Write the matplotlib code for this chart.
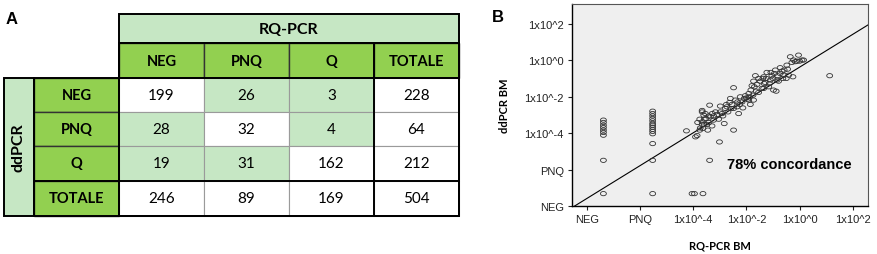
import numpy as np
import matplotlib.pyplot as plt
from matplotlib.patches import Rectangle
from matplotlib.path import Path
from matplotlib.transforms import Affine2D

# ---- panel A data ----
rq_cats = ["NEG", "PNQ", "Q", "TOTALE"]
dd_cats = ["NEG", "PNQ", "Q", "TOTALE"]
counts = [[199, 26, 3, 228],
          [28, 32, 4, 64],
          [19, 31, 162, 212],
          [246, 89, 169, 504]]

# ---- panel B data (log10 units, NEG = -8, PNQ = -6) ----
rq_log = [-7.37] * 9 + [-5.52] * 14 + [-4.04, -3.95, -3.63, -3.38] + [
    -4.25, -3.91, -3.85, -3.75, -3.66, -3.66, -3.73, -3.66, -3.66, -3.60,
    -3.58, -3.51, -3.48, -3.45, -3.41, -3.38, -3.35, -3.29, -3.23, -3.23,
    -3.16, -3.10, -3.04, -3.01, -2.98, -2.91, -2.88, -2.83, -2.79, -2.75,
    -2.73, -2.69, -2.63, -2.60, -2.58, -2.54, -2.48, -2.48, -2.41, -2.35,
    -2.29, -2.25, -2.23, -2.16, -2.13, -2.08, -2.04, -2.00, -1.95, -1.91,
    -1.88, -1.85, -1.83, -1.79, -1.75, -1.73, -1.70, -1.66, -1.63, -1.60,
    -1.54, -1.48, -1.41, -1.38, -1.35, -1.33, -1.29, -1.25, -1.23, -1.16,
    -1.13, -1.10, -1.04, -1.00, -0.98, -0.95, -0.91, -0.88, -0.85, -0.83,
    -0.79, -0.73, -0.66, -0.63, -0.58, -0.50, -0.48, -0.45, -0.41, -0.35,
    -0.29, -0.25, -0.23, -0.16, -0.10, -0.04, 0.00, 0.09, 0.15, 1.13,
    -3.83, -3.75, -3.54, -3.41, -3.28, -2.98, -2.48, -2.33, -1.91, -1.73,
    -1.54, -1.35, -1.08, -0.73, -0.60, -3.58, -3.63]
dd_log = [-3.28, -3.41, -3.56, -3.69, -3.83, -3.96, -4.11, -5.49, -7.32] + [
    -2.79, -2.92, -3.05, -3.19, -3.32, -3.46, -3.56, -3.67, -3.79, -3.90,
    -4.03, -4.57, -5.49, -7.32] + [-7.32, -7.32, -7.32, -5.49] + [
    -3.87, -4.20, -4.13, -3.83, -3.52, -3.38, -3.71, -2.75, -2.83, -3.01,
    -3.23, -3.19, -3.52, -3.83, -3.41, -2.46, -3.10, -3.60, -3.28, -3.05,
    -2.83, -2.97, -3.23, -4.48, -2.51, -2.92, -3.05, -3.47, -2.64, -2.42,
    -2.55, -2.83, -2.31, -2.09, -2.64, -2.42, -1.50, -3.83, -2.18, -2.55,
    -2.92, -2.42, -2.00, -2.28, -2.61, -2.09, -1.94, -2.06, -2.13, -1.82,
    -2.00, -2.42, -1.63, -1.39, -1.91, -2.18, -1.45, -0.84, -1.69, -1.32,
    -1.76, -1.14, -1.54, -0.99, -0.90, -1.27, -1.21, -0.99, -0.66, -1.45,
    -1.27, -1.08, -0.84, -0.99, -1.63, -0.72, -0.53, -1.69, -1.08, -0.84,
    -1.14, -0.72, -0.59, -0.99, -0.53, -0.99, -0.26, -0.48, -0.81, 0.20,
    -0.11, -0.90, 0.02, -0.07, -0.04, 0.29, -0.04, 0.02, 0.02, -0.84,
    -3.41, -3.23, -2.92, -3.05, -2.92, -2.83, -2.64, -2.28, -2.18, -1.14,
    -0.99, -1.54, -0.66, -0.40, -0.81, -3.52, -3.74]

tick_pos = [-8, -6, -4, -2, 0, 2]
tick_labels = ["NEG", "PNQ", "1x10^-4", "1x10^-2", "1x10^0", "1x10^2"]
fit_x = [-8.45, 2.57]
fit_y = [-8.0, 1.95]

GREEN = "#92d050"
LIGHT = "#c6e7c4"

fig = plt.figure(figsize=(8.78, 2.55), dpi=100)

# ---------------- panel A: table drawn in pixel units ----------------
ax = fig.add_axes([0, 0, 1, 1])
ax.set_xlim(0, 878)
ax.set_ylim(255, 0)
ax.axis("off")

cols = [4, 34, 119, 204, 289, 374, 459]
rows = [15, 44, 79, 113, 147, 182, 217]
tfont = "Lato"

def cell(x0, y0, x1, y1, fc, ec="#444444", lw=0.8):
    ax.add_patch(Rectangle((x0, y0), x1 - x0, y1 - y0, fc=fc, ec=ec, lw=lw))

# RQ-PCR header
cell(cols[2], rows[0], cols[6], rows[1], LIGHT, "black", 1.4)
ax.text((cols[2] + cols[6]) / 2, (rows[0] + rows[1]) / 2, "RQ-PCR",
        ha="center", va="center", fontsize=11.5, fontweight="bold",
        family=tfont)
# ddPCR side header
cell(cols[0], rows[2], cols[1], rows[6], LIGHT, "black", 1.4)
ax.text((cols[0] + cols[1]) / 2, (rows[2] + rows[6]) / 2, "ddPCR",
        ha="center", va="center", fontsize=11.5, fontweight="bold",
        rotation=90, family=tfont)

for j, lab in enumerate(rq_cats):
    cell(cols[2 + j], rows[1], cols[3 + j], rows[2], GREEN, "#333333", 1.0)
    ax.text((cols[2 + j] + cols[3 + j]) / 2, (rows[1] + rows[2]) / 2, lab,
            ha="center", va="center", fontsize=10.5, fontweight="bold",
            family=tfont)
for i, lab in enumerate(dd_cats):
    cell(cols[1], rows[2 + i], cols[2], rows[3 + i], GREEN, "#333333", 1.0)
    ax.text((cols[1] + cols[2]) / 2, (rows[2 + i] + rows[3 + i]) / 2, lab,
            ha="center", va="center", fontsize=10.5, fontweight="bold",
            family=tfont)

for i in range(4):
    for j in range(4):
        off = i < 3 and j < 3 and i != j
        cell(cols[2 + j], rows[2 + i], cols[3 + j], rows[3 + i],
             LIGHT if off else "white", "#9a9a9a", 0.8)
        ax.text((cols[2 + j] + cols[3 + j]) / 2,
                (rows[2 + i] + rows[3 + i]) / 2, str(counts[i][j]),
                ha="center", va="center", fontsize=11, family=tfont)

# heavy separators
ax.add_patch(Rectangle((cols[2], rows[1]), cols[6] - cols[2],
                       rows[6] - rows[1], fc="none", ec="black", lw=1.4))
ax.add_patch(Rectangle((cols[1], rows[2]), cols[6] - cols[1],
                       rows[6] - rows[2], fc="none", ec="black", lw=1.4))
ax.plot([cols[5], cols[5]], [rows[1], rows[6]], color="black", lw=1.4)
ax.plot([cols[1], cols[6]], [rows[5], rows[5]], color="black", lw=1.4)
ax.plot([cols[2], cols[6]], [rows[2], rows[2]], color="black", lw=1.4)
ax.plot([cols[2], cols[2]], [rows[1], rows[6]], color="black", lw=1.4)

ax.text(12, 20, "A", ha="center", va="center", fontsize=12,
        fontweight="bold", family="Liberation Sans")
ax.text(498, 18, "B", ha="center", va="center", fontsize=12,
        fontweight="bold", family="Liberation Sans")

# ---------------- panel B: scatter ----------------
bx = fig.add_axes([572 / 878, 48 / 255, 296 / 878, 202 / 255])
bx.set_facecolor("#efefef")
oval = Path.unit_circle().transformed(Affine2D().scale(1.0, 0.72))
bx.scatter(rq_log, dd_log, s=18, marker=oval, facecolors="none",
           edgecolors="#333333", linewidths=0.6, zorder=3)
bx.plot(fit_x, fit_y, color="black", lw=0.8, zorder=2)
bx.set_xlim(-8.55, 2.57)
bx.set_ylim(-8.0, 3.1)
bx.set_xticks(tick_pos)
bx.set_xticklabels(tick_labels)
bx.set_yticks(tick_pos)
bx.set_yticklabels(tick_labels)
bx.tick_params(length=3, width=0.8, labelsize=8, pad=3, colors="#222222")
for lab in bx.get_xticklabels() + bx.get_yticklabels():
    lab.set_family("Liberation Sans")
for side in ["left", "bottom"]:
    bx.spines[side].set_linewidth(1.0)
for side in ["top", "right"]:
    bx.spines[side].set_color("#555555")
    bx.spines[side].set_linewidth(0.8)
bx.set_xlabel("RQ-PCR BM", fontsize=8, fontweight="bold", family=tfont,
              labelpad=11)
bx.set_ylabel("ddPCR BM", fontsize=8, fontweight="bold", family=tfont,
              labelpad=10)
bx.text(-2.73, -5.67, "78% concordance", ha="left", va="center",
        fontsize=10.5, fontweight="bold", family="Liberation Sans")

fig.savefig("out.png", dpi=100)
